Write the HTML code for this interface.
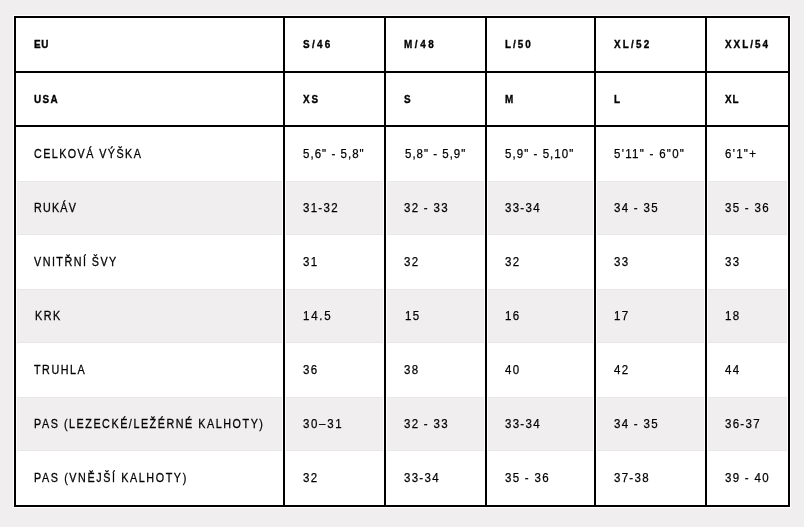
<!DOCTYPE html>
<html lang="cs"><head><meta charset="utf-8"><title>Tabulka velikostí</title><style>
html,body{margin:0;padding:0;}
body{width:804px;height:527px;background:#f0eeef;position:relative;overflow:hidden;}
.tbl{position:absolute;left:14px;top:16px;width:776px;height:491px;background:#fff;box-shadow:0 0 0 1px #fff;}
.g{position:absolute;background:#f0eeef;height:52px;border-top:1px solid #e8e6e7;border-bottom:1px solid #e8e6e7;}
.l{position:absolute;background:#000;}
.t{position:absolute;white-space:nowrap;color:#000;font-family:"Liberation Sans",Arial,sans-serif;filter:grayscale(1);}
.h{-webkit-text-stroke:0.35px #000;font-weight:bold;font-size:11px;letter-spacing:2.2px;line-height:12px;transform:scaleX(0.9);transform-origin:0 0;}
.b{-webkit-text-stroke:0.3px #000;font-size:12.5px;letter-spacing:1.8px;line-height:14px;transform:scaleX(0.86);transform-origin:0 0;}
.n{-webkit-text-stroke:0.25px #000;letter-spacing:1.4px;transform:scaleX(0.92);}
</style></head><body>
<div class="tbl"></div>
<div class="g" style="left:17px;top:181px;width:265px"></div>
<div class="g" style="left:286px;top:181px;width:97px"></div>
<div class="g" style="left:387px;top:181px;width:97px"></div>
<div class="g" style="left:488px;top:181px;width:105px"></div>
<div class="g" style="left:597px;top:181px;width:107px"></div>
<div class="g" style="left:708px;top:181px;width:79px"></div>
<div class="g" style="left:17px;top:289px;width:265px"></div>
<div class="g" style="left:286px;top:289px;width:97px"></div>
<div class="g" style="left:387px;top:289px;width:97px"></div>
<div class="g" style="left:488px;top:289px;width:105px"></div>
<div class="g" style="left:597px;top:289px;width:107px"></div>
<div class="g" style="left:708px;top:289px;width:79px"></div>
<div class="g" style="left:17px;top:397px;width:265px"></div>
<div class="g" style="left:286px;top:397px;width:97px"></div>
<div class="g" style="left:387px;top:397px;width:97px"></div>
<div class="g" style="left:488px;top:397px;width:105px"></div>
<div class="g" style="left:597px;top:397px;width:107px"></div>
<div class="g" style="left:708px;top:397px;width:79px"></div>
<div class="l" style="left:14px;top:16px;width:776px;height:2px"></div>
<div class="l" style="left:14px;top:71px;width:776px;height:2px"></div>
<div class="l" style="left:14px;top:125px;width:776px;height:2px"></div>
<div class="l" style="left:14px;top:505px;width:776px;height:2px"></div>
<div class="l" style="left:14px;top:16px;width:2px;height:491px"></div>
<div class="l" style="left:283px;top:16px;width:2px;height:491px"></div>
<div class="l" style="left:384px;top:16px;width:2px;height:491px"></div>
<div class="l" style="left:485px;top:16px;width:2px;height:491px"></div>
<div class="l" style="left:594px;top:16px;width:2px;height:491px"></div>
<div class="l" style="left:705px;top:16px;width:2px;height:491px"></div>
<div class="l" style="left:788px;top:16px;width:2px;height:491px"></div>
<div class="t h" style="left:34px;top:38px;letter-spacing:0.64px">EU</div>
<div class="t h" style="left:303px;top:38px;letter-spacing:2.53px">S/46</div>
<div class="t h" style="left:404px;top:38px;letter-spacing:2.9px">M/48</div>
<div class="t h" style="left:505px;top:38px">L/50</div>
<div class="t h" style="left:614px;top:38px;letter-spacing:2.48px">XL/52</div>
<div class="t h" style="left:725px;top:38px">XXL/54</div>
<div class="t h" style="left:34px;top:93px;letter-spacing:1.48px">USA</div>
<div class="t h" style="left:303px;top:93px">XS</div>
<div class="t h" style="left:404px;top:93px">S</div>
<div class="t h" style="left:505px;top:93px">M</div>
<div class="t h" style="left:614px;top:93px">L</div>
<div class="t h" style="left:725px;top:93px;letter-spacing:0.98px">XL</div>
<div class="t b" style="left:34px;top:147px;letter-spacing:1.67px">CELKOVÁ VÝŠKA</div>
<div class="t b n" style="left:303px;top:147px;letter-spacing:1.12px">5,6" - 5,8"</div>
<div class="t b n" style="left:405.0px;top:147px;letter-spacing:1.08px">5,8" - 5,9"</div>
<div class="t b n" style="left:505px;top:147px;letter-spacing:1.14px">5,9" - 5,10"</div>
<div class="t b n" style="left:614px;top:147px">5'11" - 6"0"</div>
<div class="t b n" style="left:725px;top:147px">6'1"+</div>
<div class="t b" style="left:34px;top:201px;letter-spacing:1.42px">RUKÁV</div>
<div class="t b n" style="left:303px;top:201px">31-32</div>
<div class="t b n" style="left:404px;top:201px">32 - 33</div>
<div class="t b n" style="left:505px;top:201px">33-34</div>
<div class="t b n" style="left:614px;top:201px">34 - 35</div>
<div class="t b n" style="left:725px;top:201px">35 - 36</div>
<div class="t b" style="left:34px;top:255px;letter-spacing:1.72px">VNITŘNÍ ŠVY</div>
<div class="t b n" style="left:303px;top:255px">31</div>
<div class="t b n" style="left:404px;top:255px">32</div>
<div class="t b n" style="left:505px;top:255px">32</div>
<div class="t b n" style="left:614px;top:255px">33</div>
<div class="t b n" style="left:725px;top:255px">33</div>
<div class="t b" style="left:34.7px;top:309px">KRK</div>
<div class="t b n" style="left:303px;top:309px;letter-spacing:1.91px">14.5</div>
<div class="t b n" style="left:404.9px;top:309px">15</div>
<div class="t b n" style="left:505px;top:309px">16</div>
<div class="t b n" style="left:614px;top:309px">17</div>
<div class="t b n" style="left:725px;top:309px">18</div>
<div class="t b" style="left:34px;top:363px">TRUHLA</div>
<div class="t b n" style="left:303px;top:363px">36</div>
<div class="t b n" style="left:404px;top:363px">38</div>
<div class="t b n" style="left:505px;top:363px">40</div>
<div class="t b n" style="left:614px;top:363px">42</div>
<div class="t b n" style="left:725px;top:363px">44</div>
<div class="t b" style="left:34px;top:417px">PAS (LEZECKÉ/LEŽÉRNÉ KALHOTY)</div>
<div class="t b n" style="left:303px;top:417px;letter-spacing:1.81px">30–31</div>
<div class="t b n" style="left:404px;top:417px">32 - 33</div>
<div class="t b n" style="left:505px;top:417px">33-34</div>
<div class="t b n" style="left:614px;top:417px">34 - 35</div>
<div class="t b n" style="left:725px;top:417px">36-37</div>
<div class="t b" style="left:34px;top:471px;letter-spacing:1.87px">PAS (VNĚJŠÍ KALHOTY)</div>
<div class="t b n" style="left:303px;top:471px">32</div>
<div class="t b n" style="left:404px;top:471px">33-34</div>
<div class="t b n" style="left:505px;top:471px">35 - 36</div>
<div class="t b n" style="left:614px;top:471px">37-38</div>
<div class="t b n" style="left:725px;top:471px">39 - 40</div>
</body></html>
